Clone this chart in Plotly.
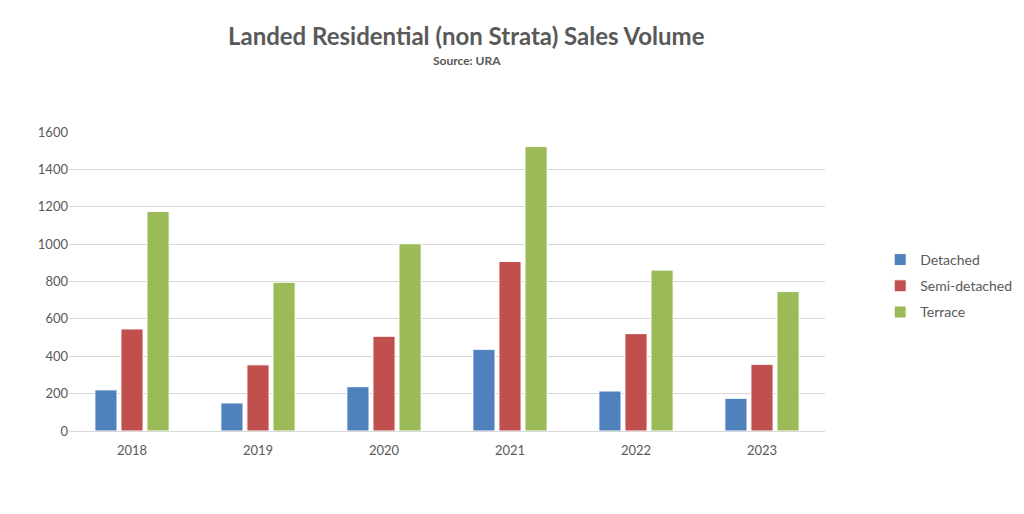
import plotly.graph_objects as go

years = ["2018", "2019", "2020", "2021", "2022", "2023"]
detached = [220, 150, 237, 437, 214, 175]
semi_detached = [546, 354, 507, 907, 521, 357]
terrace = [1175, 796, 1002, 1523, 861, 746]

series = [
    ("Detached", detached, "#4F81BD"),
    ("Semi-detached", semi_detached, "#C0504D"),
    ("Terrace", terrace, "#9BBB59"),
]

fig = go.Figure()
for name, vals, color in series:
    fig.add_trace(go.Bar(
        x=years, y=vals, name=name, legendgroup=name,
        marker=dict(color=color, line=dict(color="white", width=1)),
    ))

font_family = "Lato, 'Open Sans', sans-serif"

fig.update_layout(
    width=1024, height=514,
    paper_bgcolor="white", plot_bgcolor="white",
    barmode="group", bargap=0.38, bargroupgap=0.15,
    margin=dict(l=61, r=207, t=124, b=91),
    font=dict(family=font_family, color="#595959", size=13),
    legend=dict(
        x=1.073, xanchor="left", y=0.485, yanchor="middle",
        font=dict(size=14, color="#595959"),
        itemwidth=30, tracegroupgap=5, traceorder="grouped",
    ),
    xaxis=dict(
        showgrid=False, showline=True, linecolor="#D9D9D9", linewidth=1,
        ticks="", tickfont=dict(size=13, color="#595959"),
        ticklabelstandoff=7,
    ),
    yaxis=dict(
        range=[0, 1600], dtick=200, showgrid=True, gridcolor="#D9D9D9",
        gridwidth=1, zeroline=False, ticks="", showline=False,
        tickfont=dict(size=13, color="#595959"), ticklabelstandoff=0,
    ),
    annotations=[
        dict(text="<b>Landed Residential (non Strata) Sales Volume</b>",
             xref="paper", yref="paper", x=0.526, y=1.322,
             xanchor="center", yanchor="middle", showarrow=False,
             font=dict(size=24, color="#595959", family=font_family)),
        dict(text="<b>Source: URA</b>",
             xref="paper", yref="paper", x=0.526, y=1.238,
             xanchor="center", yanchor="middle", showarrow=False,
             font=dict(size=12, color="#595959", family=font_family)),
    ],
)

fig.write_html("out.html")
